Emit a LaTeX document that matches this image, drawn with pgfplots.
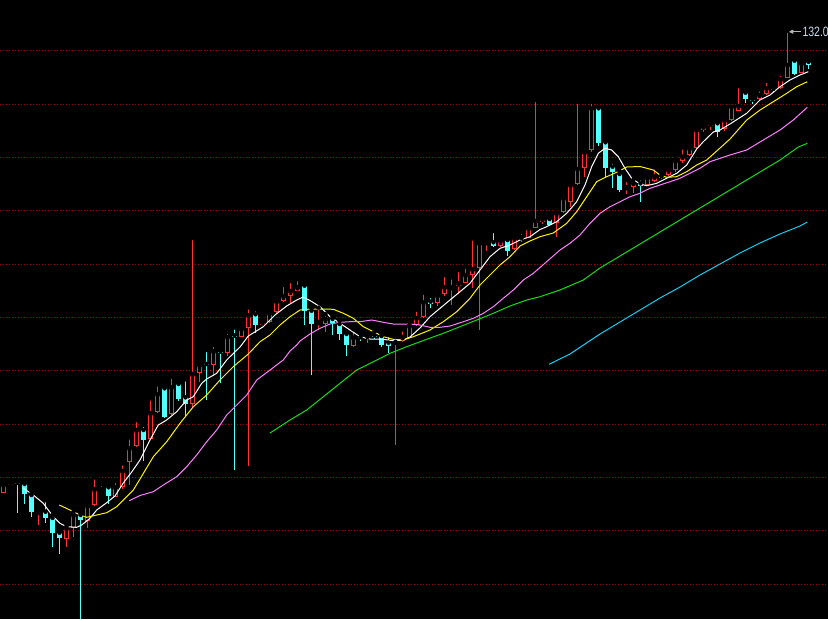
\documentclass[border=0pt]{standalone}
\usepackage{pgfplots}
\usepackage{pgfplotstable}
\pgfplotsset{compat=1.18}
\usepackage{fontspec}
\setmainfont{Liberation Sans}
\newfontfamily\labfont[FakeStretch=0.78]{Liberation Sans}
\definecolor{upred}{RGB}{255,50,50}
\definecolor{dncyan}{RGB}{84,255,255}
\definecolor{gridred}{RGB}{170,0,0}
\definecolor{maviolet}{RGB}{255,128,255}
\definecolor{magreen}{RGB}{20,220,20}
\definecolor{macyan}{RGB}{20,205,240}
\definecolor{labelc}{RGB}{200,220,240}

% candles: k = index, prices given as screen rows (y axis reversed)
\pgfplotstableread{
k O H L C
0 492.7 481 493 485
1 484.5 481.5 486 483
5 513 510 525 512
9 538.7 526 546.7 528.3
10 527.7 511.7 537.3 515
12 520.7 502.3 527.7 506
13 505.3 477.3 506 489.3
14 490 484 492.3 489
16 496.7 481 496.7 487.3
17 486.5 463.3 489 471
18 461.7 437.3 485 448.3
19 446 420 447.3 430
21 439.3 398.3 440 413.3
22 411.7 384.3 412.7 394.3
24 414.3 376.7 415 387.3
27 404 238 408.3 374
28 373.3 361.7 381.7 365
30 365 345 376.3 351.3
32 353.3 331.7 356 337
34 336.7 327.3 337.3 329
35 328.3 307.3 466 315.3
37 325 318.3 326 322.3
38 321.7 310 323.3 313.3
39 312.3 301 312.7 301.5
40 300.7 285 301.7 296
41 295.7 281 302.7 291
42 290.7 279 291 287.3
45 323 307.7 330 322
46 324 314 331.7 319
50 346 329.3 346.5 337.7
52 339 333.3 342.7 336
56 342.8 336.7 445 341.8
57 340.7 329.3 341.7 337.3
58 337.7 325 338.3 326
59 324.5 309.5 326 318
60 317.3 292.7 318.3 302.3
62 303.3 292.7 306 295.7
63 294.3 275 296 287.3
64 288.2 277.3 305 287.2
65 286 270 294 283.3
66 282.7 266.7 283.3 275
67 275 238.3 288.3 269.3
68 268.3 241 330 243.3
69 243.2 241 250.7 242.2
71 245.7 239.3 247.3 240.7
73 249.3 236.7 250 238.3
74 238 231.7 241.7 237
75 237.7 226.7 238.3 228.3
76 227.7 100 228.3 221
77 221.7 216 224.3 219
79 223.3 211 236.7 213.3
80 212.3 194 213.3 198.3
81 201.7 183.3 206.7 185
82 184.3 101.7 185 169
83 168.3 150 176.7 152.3
84 150 101.7 151.7 108.3
89 188.2 180 194.3 187.2
90 186.5 179.5 192.8 183
92 185 176 186 177.7
93 180.7 167.3 181.7 176.7
94 178.3 171.7 179.3 175
95 175 168.3 176 170
96 170 156.7 171.7 161
97 161 147.3 162.7 156.7
98 155 146.7 156 148.3
99 148.3 128.3 149.3 130
100 130 124 132 126.7
101 126.3 120.7 130 123.7
103 129 116 131 120.3
104 120 101.7 120.7 106.7
105 110.7 86 110.7 106
108 99.3 89.3 100 95
109 94 81 95 88.3
111 88.3 74 89.3 79.3
112 78.3 30.7 78.3 65
114 72.7 60 73.3 63.3
}\redtab

\pgfplotstableread{
k O H L C
2 483 480.7 513 484
3 484 482.7 504 494.3
4 495 493.3 517.3 511.7
6 511.7 500 522.7 517.7
7 518 515 546.7 532.7
8 532.7 530 554 537.7
11 515 512.7 619 520
15 487.3 486 504.3 496
20 430 425 460.7 440
23 388.3 386 418.3 417.3
25 384 381.7 401 399
26 397.3 379.3 416.7 404.3
29 364 350 400 365
31 351.5 349.3 382.7 352.5
33 335.5 327.3 470 336.5
36 314.3 309.3 333.3 325
43 285.7 283.3 325 311
44 310.7 308.3 375 324.3
47 319 316.7 335 323.3
48 324 320.7 340 334.3
49 334 331.7 356 345
51 337.2 333.3 340.7 338.2
53 335.5 331.7 339 336.5
54 336 335 346.7 345
55 342.7 335 352.7 346
61 301.7 296 307.7 304.3
70 242.3 231 246.7 245.7
72 240 239.3 255.7 250.7
78 219 218.3 225.7 225
85 108.3 106.7 145.7 142.7
86 142.3 141 176.7 168.3
87 166.7 161.7 187.7 172.3
88 174 171 191.7 190
91 183.3 178.3 201.7 186
102 123.3 122 137.3 131.7
106 92.7 90 103.3 99.3
107 99.5 96 104 100.5
110 88.8 87.3 91.7 89.8
113 60.7 59.3 75 74
115 61.7 61.7 69.3 65
}\cyantab

\begin{document}
\begin{tikzpicture}
\begin{axis}[
  scale only axis, width=828pt, height=619pt,
  xmin=0, xmax=828, ymin=0, ymax=619, y dir=reverse,
  axis background/.style={fill=black},
  axis line style={draw=none},
  xtick=\empty,
  ytick={50.7,104,157.3,210.7,264,317.3,370.7,424,477.3,530.7,584},
  yticklabels={}, major tick length=0pt, ytick style={draw=none},
  ymajorgrids,
  grid style={gridred, line width=1pt, dash pattern=on 1pt off 2pt},
  clip=true,
]
% red (up) candles: wick, outer body, hollow inside
\addplot[only marks, mark=none, forget plot,
  error bars/.cd, y dir=plus, y explicit, error mark=none,
  error bar style={draw=upred, line width=1pt}]
  table[x expr=3.5+7*\thisrow{k}, y=H, y error plus expr=\thisrow{L}-\thisrow{H}] {\redtab};
\addplot[only marks, mark=none, forget plot,
  error bars/.cd, y dir=plus, y explicit, error mark=none,
  error bar style={draw=upred, line width=5pt}]
  table[x expr=3.5+7*\thisrow{k}, y=C, y error plus expr=\thisrow{O}-\thisrow{C}] {\redtab};
\addplot[only marks, mark=none, forget plot,
  error bars/.cd, y dir=plus, y explicit, error mark=none,
  error bar style={draw=black, line width=3pt}]
  table[x expr=3.5+7*\thisrow{k}, y expr=\thisrow{C}+1, y error plus expr={max(\thisrow{O}-\thisrow{C}-2,0)}] {\redtab};
% cyan (down) candles
\addplot[only marks, mark=none, forget plot,
  error bars/.cd, y dir=plus, y explicit, error mark=none,
  error bar style={draw=dncyan, line width=1pt}]
  table[x expr=3.5+7*\thisrow{k}, y=H, y error plus expr=\thisrow{L}-\thisrow{H}] {\cyantab};
\addplot[only marks, mark=none, forget plot,
  error bars/.cd, y dir=plus, y explicit, error mark=none,
  error bar style={draw=dncyan, line width=5pt}]
  table[x expr=3.5+7*\thisrow{k}, y=O, y error plus expr=\thisrow{C}-\thisrow{O}] {\cyantab};

% moving averages
\addplot[white, line width=1pt, mark=none] coordinates {
(23.3,488.3) (33.3,495) (43.3,503.3) (53.3,516.7) (60,523.3) (66.7,526.7) (76.7,527.3) (81.7,525) (90,518.3) (96.7,510) (106.7,502.7) (115,496) (123.3,483) (131.7,472) (140,460) (150,440) (158.3,425) (166.7,420) (176.7,411.7) (186.7,400) (193.3,396.7) (201.7,383.3) (206.7,379) (216.7,373.3) (226.7,360) (240,347) (248.3,336) (263.3,326.7) (275,315) (286.7,306) (296.7,300) (303.3,297) (310,300.5) (320,306.7) (330,316.7) (340,323.3) (350,330) (360,336.7) (370,339) (383.3,339.3) (393.3,340.7) (403.3,340) (410,337) (420,328) (430,316.7) (440,308.3) (450,300) (460,291.7) (470,283.3) (480,270) (490,256.7) (500,248.3) (510,245) (520,240) (530,236.7) (540,229.5) (546.7,226.7) (556.7,221.7) (566.7,213.3) (576.7,201.7) (585,185) (591.7,166.7) (598.3,153.3) (605,148.3) (611.7,150) (618.3,156.7) (625,168.3) (631.7,178.3) (640,184) (646.7,185.7) (656.7,183.3) (666.7,178.3) (676.7,173.3) (686.7,165) (696.7,149) (703.3,141.7) (713.3,132) (720,130) (730,124) (746.7,113.3) (760,100) (770,95) (780,86.7) (790,80) (800,75) (808.3,71.7)
};
\addplot[yellow, line width=1pt, mark=none] coordinates {
(59.3,505) (70,510) (80,515) (86.7,517.3) (96.7,515) (106.7,512.7) (116.7,506.7) (125,498.3) (133.3,490) (140,479) (153.3,456.7) (166.7,441.7) (180,423.3) (193.3,406.7) (206.7,395) (220,380) (233.3,366.7) (248.3,354) (260,341.7) (270,335) (280,325) (290,316.7) (300,310) (310,309) (323.3,309) (333.3,309.3) (343.3,313.3) (353.3,318.3) (363.3,326.7) (373.3,331.7) (383.3,336.7) (393.3,339.3) (403.3,340) (413.3,336.7) (430,330) (443.3,321.7) (456.7,311.7) (470,298.3) (480,285) (490,275) (500,265) (510,256.7) (520,246) (530,241) (540,236.7) (553.3,233) (566.7,223.3) (576.7,211.7) (586.7,196.7) (596.7,181.7) (606.7,176.7) (616.7,172.3) (626.7,167) (640,166.5) (653.3,170) (660,175) (666.7,177.3) (676.7,176.7) (686.7,171.7) (696.7,165) (706.7,160) (716.7,151) (730,139) (746.7,120) (760,110) (773.3,101.7) (786.7,93.3) (796.7,86.7) (807.3,81.7)
};
\addplot[maviolet, line width=1pt, mark=none] coordinates {
(129.3,500.7) (140,495.5) (153.3,491.7) (163.3,485) (176.7,476.7) (186.7,466.7) (196.7,455) (206.7,441.7) (216.7,430) (226.7,415) (236.7,405) (246.7,395) (256.7,380) (270,370) (283.3,360) (290,351) (296.7,345) (300,341) (310,334) (320,328.3) (330,324) (340,322.3) (350,321.7) (360,321.7) (371.7,320) (383.3,322.3) (393.3,324) (403.3,324) (413.3,324.3) (420,325) (430,327.3) (440,327.3) (450,326) (463.3,321.7) (473.3,318.3) (483.3,313.3) (493.3,306.7) (503.3,298.3) (513.3,290) (523.3,280) (533.3,273.3) (540,267.5) (560,250) (570,243.3) (580,235) (590,223.3) (600,213.3) (610,206.7) (620,201.7) (630,196.7) (640,193.3) (650,188.3) (660,185) (670,181.7) (680,178.3) (690,173.3) (700,168.3) (710,161.7) (720,158.3) (730,155) (746.7,150) (763.3,140) (780,130) (793.3,120) (807.3,107.3)
};
\addplot[magreen, line width=1pt, mark=none] coordinates {
(270,433) (290,420) (306.7,410) (323.3,396.7) (340,383.3) (356.7,370) (373.3,361.7) (390,353.3) (406.7,346.7) (426.7,339.3) (443.3,333.3) (460,326.7) (476.7,320) (493.3,313.3) (510,306) (526.7,300) (540,296.7) (560,290) (583.3,280) (600,268) (620,256) (640,244) (660,232) (680,220) (696.7,210) (730,190) (760,172) (780,160) (798.3,147) (807.3,143.3)
};
\addplot[macyan, line width=1pt, mark=none] coordinates {
(549,364.3) (570,354) (600,334) (620,322) (640,310) (660,298) (680,287) (700,275) (720,264) (740,253) (760,243) (780,234) (800,226) (807.3,222)
};

% highest price marker
\draw[color={rgb,255:red,180;green,180;blue,180}, line width=1pt, -latex] (axis cs:800.5,31.7) -- (axis cs:787.5,31.7);
\node[anchor=west, inner sep=0pt, text=labelc, font=\labfont\fontsize{13.5}{13.5}\selectfont] at (axis cs:802.3,31.7) {132.0};
\end{axis}
\pgfresetboundingbox
\path[use as bounding box] (current axis.south west) rectangle (current axis.north east);
\end{tikzpicture}
\end{document}
